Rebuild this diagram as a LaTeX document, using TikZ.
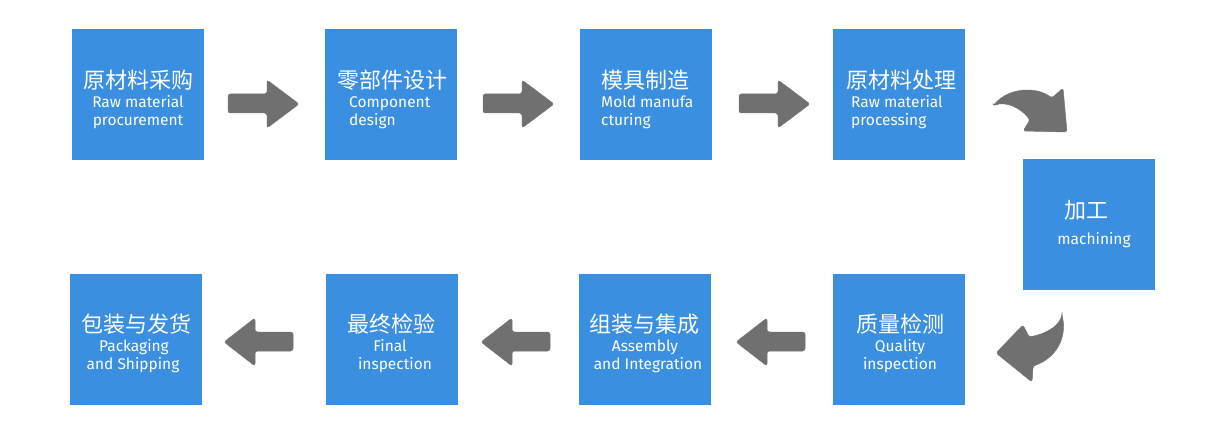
\documentclass[tikz,border=0pt]{standalone}
\usepackage{fontspec}
\newfontfamily\cn{Noto Sans CJK SC}
\newfontfamily\en{Fira Sans}
\definecolor{boxblue}{HTML}{3A8FE1}
\definecolor{arrowgray}{HTML}{707070}
\tikzset{
  x=1pt, y=-1pt,
  stepbox/.style={fill=boxblue, draw=none, minimum width=132pt, minimum height=131pt, inner sep=0pt, anchor=north west},
  cntext/.style={font=\cn\fontsize{22}{22}\selectfont, text=white, inner sep=0pt},
  entext/.style={font=\en\fontsize{15.5}{15.5}\selectfont, text=white, inner sep=0pt},
  garrow/.style={fill=arrowgray, draw=arrowgray, line width=0.5pt, rounded corners=2.5pt},
}
\newcommand{\rarrow}[2]{% x of shaft start, y centre
  \fill[garrow] (#1,#2-10) -- (#1+39,#2-10) -- (#1+39,#2-24) -- (#1+71,#2) -- (#1+39,#2+24) -- (#1+39,#2+9) -- (#1,#2+9) -- cycle;}
\newcommand{\larrow}[2]{% x of tip, y centre
  \fill[garrow] (#1,#2) -- (#1+31,#2-24) -- (#1+31,#2-10) -- (#1+69,#2-10) -- (#1+69,#2+9) -- (#1+31,#2+9) -- (#1+31,#2+24) -- cycle;}
\begin{document}
\begin{tikzpicture}
\useasboundingbox (0,0) rectangle (1225,435);
% boxes
\node[stepbox] (b1) at (72,29) {};
\node[stepbox] (b2) at (325,29) {};
\node[stepbox] (b3) at (580,29) {};
\node[stepbox] (b4) at (833,29) {};
\node[stepbox] (b5) at (1023,159) {};
\node[stepbox] (b6) at (833,274) {};
\node[stepbox] (b7) at (579,274) {};
\node[stepbox] (b8) at (326,274) {};
\node[stepbox] (b9) at (70,274) {};
% texts row 1
\node[cntext] (t1) at (138,80) {原材料采购};
\node[entext, anchor=mid] (e1a) at (138,105) {Raw material};
\node[entext, anchor=mid] (e1b) at (138,123) {procurement};
\node[cntext] (t2) at (392,80) {零部件设计};
\node[entext, anchor=mid west] (e2a) at (349,105) {Component};
\node[entext, anchor=mid west] (e2b) at (349,123) {design};
\node[cntext] (t3) at (645,80) {模具制造};
\node[entext, anchor=mid west] (e3a) at (601,105) {Mold manufa};
\node[entext, anchor=mid west] (e3b) at (601,123) {cturing};
\node[cntext] (t4) at (901,80) {原材料处理};
\node[entext, anchor=mid west] (e4a) at (851,105) {Raw material};
\node[entext, anchor=mid west] (e4b) at (851,123) {processing};
% box 5
\node[cntext] (t5) at (1086,210) {加工};
\node[entext, anchor=mid] (e5) at (1094,242) {machining};
% row 2
\node[cntext] (t6) at (900,324) {质量检测};
\node[entext, anchor=mid] (e6a) at (900,349) {Quality};
\node[entext, anchor=mid] (e6b) at (900,367) {inspection};
\node[cntext] (t7) at (644,324) {组装与集成};
\node[entext, anchor=mid] (e7a) at (645,349) {Assembly};
\node[entext, anchor=mid] (e7b) at (648,367) {and Integration};
\node[cntext] (t8) at (391,324) {最终检验};
\node[entext, anchor=mid] (e8a) at (390,349) {Final};
\node[entext, anchor=mid] (e8b) at (395,367) {inspection};
\node[cntext] (t9) at (136,324) {包装与发货};
\node[entext, anchor=mid] (e9a) at (134,349) {Packaging};
\node[entext, anchor=mid] (e9b) at (133,367) {and Shipping};
% straight arrows
\rarrow{228}{104}
\rarrow{483}{104}
\rarrow{739}{104}
\larrow{224}{342}
\larrow{481}{342}
\larrow{736}{342}
% curved arrows
\fill[garrow] (993,106) .. controls (1008,88) and (1035,86) .. (1052,98) -- (1063,88) -- (1067,132) -- (1023,131) -- (1030,120) .. controls (1020,107) and (1005,101) .. cycle;
\fill[garrow] (1062,315) .. controls (1067,338) and (1056,358) .. (1033,366) -- (1032,382) -- (996,353) -- (1023,325) -- (1029,337) .. controls (1045,334) and (1058,327) .. cycle;
\end{tikzpicture}
\end{document}
